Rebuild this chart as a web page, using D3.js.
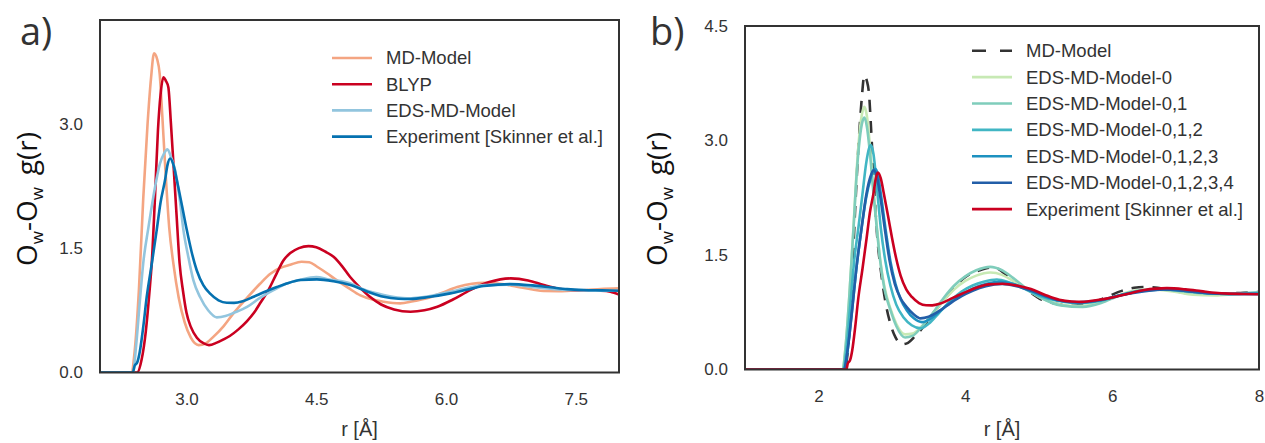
<!DOCTYPE html>
<html>
<head>
<meta charset="utf-8">
<script src="https://cdn.jsdelivr.net/npm/d3@7"></script>
<style>
  body { margin: 0; background: #fff; }
  svg { display: block; }
</style>
</head>
<body>
<div id="chart"></div>
<script>
// g(r) curves, [r, g] pairs
const mdModel = [[1.0,0],[2.36,0],[2.40,0.25],[2.45,1.0],[2.50,2.1],[2.55,3.0],[2.59,3.55],[2.625,3.85],[2.66,3.78],[2.69,3.6],[2.72,3.1],[2.75,2.55],[2.80,1.75],[2.85,1.3],[2.91,0.9],[2.98,0.6],[3.05,0.42],[3.14,0.33],[3.22,0.35],[3.31,0.43],[3.43,0.56],[3.54,0.71],[3.70,0.9],[3.85,1.07],[3.97,1.19],[4.08,1.26],[4.20,1.30],[4.33,1.335],[4.42,1.33],[4.51,1.275],[4.62,1.2],[4.74,1.11],[4.87,1.02],[5.01,0.93],[5.15,0.88],[5.28,0.853],[5.47,0.834],[5.62,0.86],[5.78,0.894],[5.95,0.96],[6.13,1.03],[6.30,1.07],[6.44,1.08],[6.62,1.07],[6.82,1.034],[7.0,1.0],[7.13,0.982],[7.30,0.98],[7.44,0.986],[7.62,0.995],[7.79,1.006],[8.0,1.014]];

const blyp = [[2.0,0],[2.43,0],[2.48,0.15],[2.53,0.5],[2.57,0.95],[2.60,1.35],[2.635,2.1],[2.67,2.92],[2.70,3.35],[2.733,3.56],[2.76,3.52],[2.79,3.44],[2.82,3.0],[2.85,2.5],[2.885,1.9],[2.92,1.32],[2.96,0.98],[3.00,0.72],[3.05,0.55],[3.12,0.42],[3.20,0.35],[3.26,0.33],[3.35,0.36],[3.43,0.40],[3.50,0.44],[3.60,0.52],[3.70,0.62],[3.78,0.72],[3.86,0.85],[3.95,1.0],[4.04,1.19],[4.12,1.35],[4.20,1.44],[4.30,1.50],[4.41,1.524],[4.50,1.51],[4.60,1.46],[4.70,1.395],[4.80,1.28],[4.89,1.154],[5.0,1.03],[5.12,0.913],[5.25,0.82],[5.40,0.76],[5.59,0.733],[5.75,0.75],[5.90,0.793],[6.08,0.88],[6.28,0.994],[6.50,1.09],[6.75,1.135],[6.95,1.11],[7.13,1.054],[7.30,1.01],[7.44,0.994],[7.62,0.99],[7.79,0.986],[7.90,0.975],[8.0,0.94]];

const edsModel = [[2.0,0],[2.38,0],[2.42,0.35],[2.46,0.85],[2.50,1.32],[2.56,1.75],[2.617,2.12],[2.694,2.52],[2.74,2.64],[2.78,2.69],[2.82,2.6],[2.868,2.44],[2.92,2.1],[2.964,1.72],[3.02,1.4],[3.08,1.11],[3.157,0.91],[3.25,0.75],[3.35,0.665],[3.45,0.68],[3.55,0.72],[3.70,0.79],[3.85,0.9],[4.0,0.99],[4.15,1.07],[4.32,1.12],[4.50,1.15],[4.65,1.12],[4.89,1.075],[5.05,1.0],[5.28,0.934],[5.55,0.894],[5.80,0.92],[6.05,0.974],[6.25,1.02],[6.44,1.054],[6.75,1.06],[7.0,1.03],[7.3,1.0],[7.6,0.99],[8.0,0.985]];

const experiment = [[1.0,0],[2.38,0],[2.40,0.08],[2.43,0.12],[2.46,0.25],[2.50,0.55],[2.54,0.91],[2.60,1.32],[2.656,1.72],[2.70,2.05],[2.752,2.32],[2.78,2.5],[2.81,2.58],[2.85,2.5],[2.888,2.32],[2.95,2.0],[3.003,1.72],[3.06,1.45],[3.119,1.23],[3.196,1.05],[3.273,0.95],[3.37,0.87],[3.466,0.841],[3.55,0.84],[3.65,0.86],[3.775,0.913],[3.90,0.97],[4.044,1.03],[4.15,1.07],[4.32,1.115],[4.508,1.123],[4.70,1.10],[4.894,1.054],[5.08,0.98],[5.279,0.913],[5.45,0.89],[5.588,0.886],[5.80,0.91],[6.051,0.954],[6.25,1.0],[6.436,1.042],[6.60,1.06],[6.745,1.066],[7.0,1.05],[7.208,1.027],[7.4,1.005],[7.594,0.994],[7.8,0.99],[8.0,0.986]];

const eds0 = [[1.0,0],[2.33,0],[2.37,0.3],[2.42,0.95],[2.478,1.87],[2.52,2.6],[2.56,3.1],[2.60,3.38],[2.628,3.44],[2.66,3.32],[2.70,2.95],[2.75,2.35],[2.80,1.82],[2.84,1.45],[2.90,1.08],[2.98,0.8],[3.06,0.6],[3.18,0.46],[3.28,0.47],[3.40,0.56],[3.55,0.72],[3.70,0.9],[3.85,1.05],[4.0,1.16],[4.15,1.23],[4.34,1.27],[4.50,1.24],[4.65,1.16],[4.85,1.04],[5.05,0.93],[5.30,0.85],[5.55,0.83],[5.80,0.87],[6.05,0.96],[6.30,1.03],[6.55,1.05],[6.85,1.02],[7.1,0.98],[7.4,0.97],[7.7,0.99],[8.0,1.0]];

const eds01 = [[1.0,0],[2.33,0],[2.37,0.3],[2.42,0.95],[2.478,1.85],[2.52,2.55],[2.56,3.0],[2.60,3.25],[2.628,3.3],[2.66,3.18],[2.70,2.85],[2.75,2.3],[2.80,1.8],[2.84,1.43],[2.90,1.05],[2.98,0.78],[3.06,0.57],[3.18,0.42],[3.28,0.44],[3.40,0.55],[3.55,0.73],[3.70,0.93],[3.85,1.1],[4.0,1.22],[4.15,1.3],[4.34,1.345],[4.50,1.3],[4.65,1.2],[4.85,1.05],[5.05,0.93],[5.30,0.84],[5.6,0.82],[5.85,0.87],[6.1,0.97],[6.35,1.03],[6.6,1.05],[6.9,1.03],[7.2,1.0],[7.5,0.99],[7.8,1.0],[8.0,1.01]];

const eds012 = [[1.0,0],[2.34,0],[2.38,0.25],[2.43,0.8],[2.49,1.45],[2.546,1.87],[2.60,2.3],[2.65,2.7],[2.69,2.9],[2.715,2.94],[2.75,2.82],[2.80,2.35],[2.85,1.85],[2.91,1.43],[2.98,1.1],[3.06,0.85],[3.16,0.68],[3.27,0.58],[3.39,0.54],[3.50,0.6],[3.65,0.75],[3.80,0.9],[3.95,1.02],[4.10,1.1],[4.25,1.15],[4.43,1.18],[4.60,1.14],[4.80,1.06],[5.0,0.97],[5.25,0.9],[5.55,0.87],[5.85,0.9],[6.1,0.97],[6.4,1.03],[6.7,1.05],[7.0,1.03],[7.3,1.0],[7.6,0.99],[8.0,1.0]];

const eds0123 = [[1.0,0],[2.35,0],[2.39,0.2],[2.45,0.7],[2.52,1.35],[2.59,1.87],[2.65,2.25],[2.71,2.5],[2.745,2.6],[2.774,2.63],[2.81,2.55],[2.85,2.3],[2.92,1.8],[2.98,1.42],[3.05,1.12],[3.12,0.92],[3.2,0.78],[3.3,0.67],[3.41,0.62],[3.52,0.66],[3.65,0.76],[3.80,0.88],[3.95,0.98],[4.10,1.06],[4.28,1.12],[4.48,1.15],[4.65,1.12],[4.85,1.05],[5.05,0.97],[5.3,0.9],[5.55,0.88],[5.85,0.91],[6.1,0.97],[6.4,1.03],[6.7,1.05],[7.0,1.03],[7.3,1.0],[7.6,0.99],[8.0,0.99]];

const eds01234 = [[1.0,0],[2.35,0],[2.39,0.2],[2.45,0.7],[2.52,1.35],[2.59,1.87],[2.65,2.28],[2.70,2.5],[2.75,2.61],[2.79,2.55],[2.84,2.28],[2.91,1.8],[2.97,1.42],[3.04,1.12],[3.12,0.93],[3.2,0.82],[3.3,0.72],[3.39,0.67],[3.5,0.69],[3.65,0.77],[3.80,0.87],[3.95,0.96],[4.10,1.03],[4.28,1.09],[4.5,1.12],[4.7,1.09],[4.9,1.03],[5.1,0.96],[5.3,0.9],[5.55,0.88],[5.85,0.91],[6.1,0.97],[6.4,1.02],[6.7,1.05],[7.0,1.03],[7.3,1.0],[7.6,0.99],[8.0,0.99]];

const seriesA = ["MD-Model", "BLYP", "EDS-MD-Model", "Experiment [Skinner et al.]"];
const seriesB = ["MD-Model", "EDS-MD-Model-0", "EDS-MD-Model-0,1", "EDS-MD-Model-0,1,2", "EDS-MD-Model-0,1,2,3", "EDS-MD-Model-0,1,2,3,4", "Experiment [Skinner et al.]"];
const xTicksA = [3.0, 4.5, 6.0, 7.5];
const yTicksA = [0.0, 1.5, 3.0];
const xTicksB = [2, 4, 6, 8];
const yTicksB = [0.0, 1.5, 3.0, 4.5];

const width = 1265;
const height = 443;
const textColor = "#333";
const tickFont = "'Liberation Sans', Arial, sans-serif";
const labelFont = "'Open Sans', 'DejaVu Sans', sans-serif";

const svg = d3
  .select("#chart")
  .append("svg")
  .attr("width", width)
  .attr("height", height);

function drawPanel(p) {
  const x = d3.scaleLinear().domain(p.xDomain).range([p.left, p.right]);
  const y = d3.scaleLinear().domain(p.yDomain).range([p.bottom, p.top]);
  const g = svg.append("g");

  g.append("clipPath")
    .attr("id", p.id + "-clip")
    .append("rect")
    .attr("x", p.left)
    .attr("y", p.top)
    .attr("width", p.right - p.left)
    .attr("height", p.bottom - p.top);

  const line = d3
    .line()
    .x((d) => x(d[0]))
    .y((d) => y(d[1]))
    .curve(d3.curveMonotoneX);

  g.append("g")
    .attr("clip-path", `url(#${p.id}-clip)`)
    .selectAll("path")
    .data(p.series)
    .join("path")
    .attr("d", (d) => line(d.data))
    .attr("fill", "none")
    .attr("stroke", (d) => d.color)
    .attr("stroke-width", 2.6)
    .attr("stroke-dasharray", (d) => d.dash || null)
    .attr("stroke-linejoin", "round");

  // axes without tick marks, seaborn "white" style
  const xAxis = g
    .append("g")
    .attr("transform", `translate(0,${p.bottom})`)
    .call(d3.axisBottom(x).tickValues(p.xTicks).tickFormat(p.xFormat).tickSize(0).tickPadding(20));
  const yAxis = g
    .append("g")
    .attr("transform", `translate(${p.left},0)`)
    .call(d3.axisLeft(y).tickValues(p.yTicks).tickFormat(d3.format(".1f")).tickSize(0).tickPadding(17));
  [xAxis, yAxis].forEach((a) => {
    a.select(".domain").remove();
    a.selectAll("text")
      .attr("fill", textColor)
      .style("font-family", tickFont)
      .style("font-size", "17px");
  });

  g.append("rect")
    .attr("x", p.left)
    .attr("y", p.top)
    .attr("width", p.right - p.left)
    .attr("height", p.bottom - p.top)
    .attr("fill", "none")
    .attr("stroke", "#333")
    .attr("stroke-width", 2);

  g.append("text")
    .attr("x", (p.left + p.right) / 2)
    .attr("y", 436)
    .attr("text-anchor", "middle")
    .attr("fill", textColor)
    .style("font-family", tickFont)
    .style("font-size", "20px")
    .text("r [Å]");

  // O_w-O_w g(r)
  const yl = g
    .append("text")
    .attr("transform", `translate(${p.yLabelX},199) rotate(-90)`)
    .attr("text-anchor", "middle")
    .attr("fill", "#111")
    .style("font-family", labelFont)
    .style("font-size", "28px");
  yl.append("tspan").text("O");
  yl.append("tspan").attr("dy", 6).style("font-size", "17px").text("w");
  yl.append("tspan").attr("dy", -6).text("-O");
  yl.append("tspan").attr("dy", 6).style("font-size", "17px").text("w");
  yl.append("tspan").attr("dy", -6).text("\u2009 g(r)");

  g.append("text")
    .attr("x", p.letterX)
    .attr("y", 45)
    .attr("fill", textColor)
    .style("font-family", labelFont)
    .style("font-size", "38px")
    .text(p.letter);

  const legend = g
    .append("g")
    .selectAll("g")
    .data(p.series)
    .join("g")
    .attr("transform", (d, i) => `translate(${p.legendX},${p.legendY + i * p.legendStep})`);
  legend
    .append("line")
    .attr("x1", 0)
    .attr("x2", 40)
    .attr("stroke", (d) => d.color)
    .attr("stroke-width", 2.6)
    .attr("stroke-dasharray", (d) => (d.dash ? "14,14" : null));
  legend
    .append("text")
    .attr("x", 54)
    .attr("dy", "0.35em")
    .attr("fill", textColor)
    .style("font-family", tickFont)
    .style("font-size", "18.5px")
    .text((d) => d.label);
}

drawPanel({
  id: "a",
  letter: "a)",
  letterX: 20,
  left: 100, right: 619, top: 20, bottom: 372.5,
  xDomain: [2, 8], yDomain: [0, 4.25],
  xTicks: xTicksA, yTicks: yTicksA, xFormat: d3.format(".1f"),
  yLabelX: 37,
  legendX: 332, legendY: 58, legendStep: 26.2,
  series: [
    { label: seriesA[0], data: mdModel, color: "#f4a582" },
    { label: seriesA[1], data: blyp, color: "#ca0020" },
    { label: seriesA[2], data: edsModel, color: "#92c5de" },
    { label: seriesA[3], data: experiment, color: "#0571b0" },
  ],
});

drawPanel({
  id: "b",
  letter: "b)",
  letterX: 650,
  left: 745, right: 1259, top: 26, bottom: 369.5,
  xDomain: [1, 8], yDomain: [0, 4.5],
  xTicks: xTicksB, yTicks: yTicksB, xFormat: d3.format("d"),
  yLabelX: 667,
  legendX: 972, legendY: 50.7, legendStep: 26.4,
  series: [
    { label: seriesB[0], data: mdModel, color: "#333", dash: "12,9" },
    { label: seriesB[1], data: eds0, color: "#c7e9b4" },
    { label: seriesB[2], data: eds01, color: "#7fcdbb" },
    { label: seriesB[3], data: eds012, color: "#41b6c4" },
    { label: seriesB[4], data: eds0123, color: "#1d91c0" },
    { label: seriesB[5], data: eds01234, color: "#225ea8" },
    { label: seriesB[6], data: experiment, color: "#ca0020" },
  ],
});
</script>
</body>
</html>
